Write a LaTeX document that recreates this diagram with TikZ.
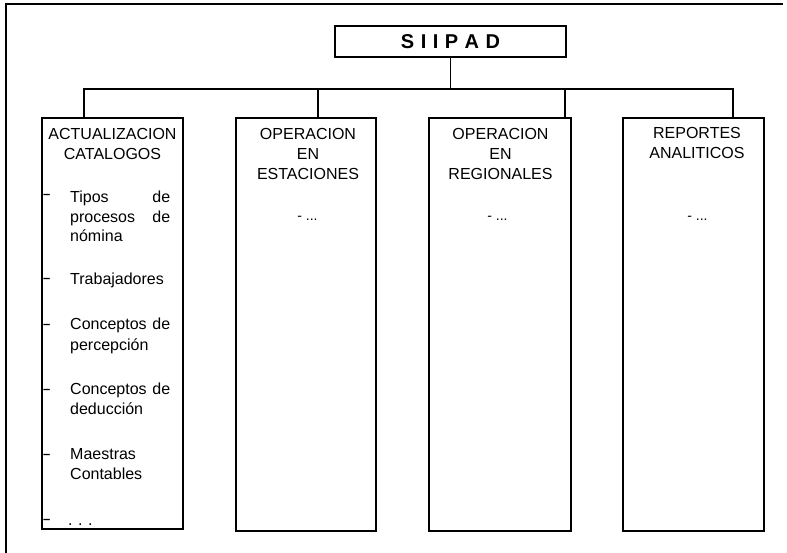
\documentclass[tikz,border=0pt]{standalone}
\usepackage{fontspec}
\setmainfont{Liberation Sans}
\begin{document}
\begin{tikzpicture}[x=1pt,y=-1pt,
  colbox/.style={draw, line width=2.2pt, anchor=north west, inner sep=0pt, outer sep=0pt},
  conn/.style={line width=1.4pt},
  head/.style={anchor=base, inner sep=0pt, font=\fontsize{16}{19}\selectfont},
  itemtxt/.style={anchor=base west, inner sep=0pt, font=\fontsize{16}{19}\selectfont},
  itemdash/.style={anchor=base west, inner sep=0pt, font=\bfseries\fontsize{13}{15}\selectfont},
  smalldots/.style={anchor=base, inner sep=0pt, font=\fontsize{14}{16}\selectfont}
]
\useasboundingbox (0,0) rectangle (787,553);
% outer frame (top and left only)
\coordinate (fbl) at (6,553);
\coordinate (ftl) at (6,4);
\coordinate (ftr) at (783,4);
\draw[line width=1.6pt] (fbl) -- (ftl) -- (ftr);

% root
\node[draw, line width=1.4pt, minimum width=231pt, minimum height=31pt, inner sep=0pt]
  (s) at (450.5,41.5) {\bfseries\fontsize{20}{24}\selectfont S\hspace{6.5pt}I\hspace{6.5pt}I\hspace{6.5pt}P\hspace{6.5pt}A\hspace{6.5pt}D};

% column boxes
\node[colbox, minimum width=141pt, minimum height=411pt] (b1) at (42,118) {};
\node[colbox, minimum width=140pt, minimum height=413pt] (b2) at (236,118) {};
\node[colbox, minimum width=142pt, minimum height=413pt] (b3) at (429,118) {};
\node[colbox, minimum width=141pt, minimum height=413pt] (b4) at (623,118) {};

% connectors
\coordinate (j1) at (84,89);
\coordinate (j2) at (318,89);
\coordinate (j3) at (565,89);
\coordinate (j4) at (733,89);
\draw[conn] (s.south) -- (s.south |- j1);
\draw[conn] (j1 |- b1.north) -- (j1) -- (j4) -- (j4 |- b4.north);
\draw[conn] (j2) -- (j2 |- b2.north);
\draw[conn] (j3) -- (j3 |- b3.north);

% headers
\node[head] (h1a) at (112.5,140) {ACTUALIZACION};
\node[head] (h1b) at (112.5,160) {CATALOGOS};
\node[head] (h2a) at (308,140) {OPERACION};
\node[head] (h2b) at (308,160) {EN};
\node[head] (h2c) at (308,180) {ESTACIONES};
\node[head] (h3a) at (500.5,140) {OPERACION};
\node[head] (h3b) at (500.5,160) {EN};
\node[head] (h3c) at (500.5,180) {REGIONALES};
\node[head] (h4a) at (697,139) {REPORTES};
\node[head] (h4b) at (697,159) {ANALITICOS};

% items of first column
\node[itemdash] (d1) at (43,198.5) {--};
\node[itemtxt] (t1a) at (70,203) {\makebox[100pt]{Tipos\hfill de}};
\node[itemtxt] (t1b) at (70,223) {\makebox[100pt]{procesos\hfill de}};
\node[itemtxt] (t1c) at (70,242) {nómina};

\node[itemdash] (d2) at (43,282.5) {--};
\node[itemtxt] (t2) at (70,285) {Trabajadores};

\node[itemdash] (d3) at (43,328.5) {--};
\node[itemtxt] (t3a) at (70,330) {\makebox[100pt]{Conceptos\hfill de}};
\node[itemtxt] (t3b) at (70,350) {percepción};

\node[itemdash] (d4) at (43,393.5) {--};
\node[itemtxt] (t4a) at (70,394) {\makebox[100pt]{Conceptos\hfill de}};
\node[itemtxt] (t4b) at (70,414) {deducción};

\node[itemdash] (d5) at (43,458.5) {--};
\node[itemtxt] (t5a) at (70,459) {Maestras};
\node[itemtxt] (t5b) at (70,479) {Contables};

\node[itemdash] (d6) at (43,523.5) {--};
\node[itemtxt] (t6) at (68,525) {.\hspace{5.5pt}.\hspace{5.5pt}.};

% placeholder items in other columns
\node[smalldots] (p2) at (307.5,221) {- ...};
\node[smalldots] (p3) at (497.5,221) {- ...};
\node[smalldots] (p4) at (697.5,221) {- ...};
\end{tikzpicture}
\end{document}
